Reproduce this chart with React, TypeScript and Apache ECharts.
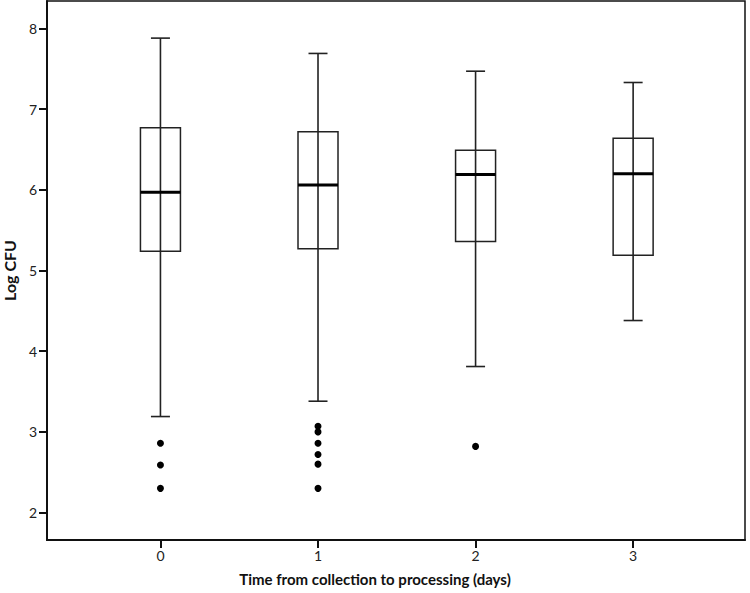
import React, { useEffect, useRef } from "react";
import * as echarts from "echarts";

const days = [0, 1, 2, 3];
const whiskerLow = [3.19, 3.38, 3.81, 4.38];
const q1 = [5.24, 5.27, 5.36, 5.19];
const median = [5.97, 6.06, 6.19, 6.2];
const q3 = [6.77, 6.72, 6.49, 6.64];
const whiskerHigh = [7.88, 7.69, 7.47, 7.33];
const outlierDay = [0, 0, 0, 1, 1, 1, 1, 1, 1, 2];
const outlierValue = [2.86, 2.59, 2.3, 3.07, 3.0, 2.86, 2.72, 2.6, 2.3, 2.82];
const yTicks = [2, 3, 4, 5, 6, 7, 8];
const xTicks = [0, 1, 2, 3];

const FONT = "Lato, 'Open Sans', sans-serif";

export default function App() {
  const ref = useRef<HTMLDivElement>(null);
  useEffect(() => {
    if (!ref.current) return;
    const chart = echarts.init(ref.current, null, { renderer: "svg" });
    const boxData = days.map((d, i) => [d, whiskerLow[i], q1[i], median[i], q3[i], whiskerHigh[i]]);
    const outliers = outlierDay.map((d, i) => [d, outlierValue[i]]);
    chart.setOption({
      animation: false,
      backgroundColor: "#fff",
      grid: {
        left: 47,
        top: 1,
        right: 5,
        bottom: 53,
        containLabel: false,
        outerBoundsMode: "none",
        show: true,
        borderColor: "#111",
        borderWidth: 1.5,
        backgroundColor: "transparent",
      },
      xAxis: {
        type: "value",
        min: -0.72,
        max: 3.71,
        splitLine: { show: false },
        axisLine: { show: true, onZero: false, lineStyle: { color: "#111", width: 2 } },
        axisTick: { show: true, length: 8, customValues: xTicks, lineStyle: { color: "#111", width: 2 } },
        axisLabel: { customValues: xTicks, color: "#222", fontSize: 14, fontFamily: FONT, margin: 8 },
      },
      yAxis: {
        type: "value",
        min: 1.66,
        max: 8.34,
        name: "Log CFU",
        nameLocation: "middle",
        nameGap: 25,
        nameTextStyle: { color: "#111", fontSize: 16, fontWeight: "bold", fontFamily: FONT },
        splitLine: { show: false },
        axisLine: { show: true, onZero: false, lineStyle: { color: "#111", width: 2 } },
        axisTick: { show: true, length: 8, customValues: yTicks, lineStyle: { color: "#111", width: 2 } },
        axisLabel: { customValues: yTicks, color: "#222", fontSize: 14, fontFamily: FONT, margin: 10 },
      },
      graphic: [
        {
          type: "text",
          left: "center",
          top: 571,
          style: {
            text: "Time from collection to processing (days)",
            fill: "#111",
            font: "bold 15px " + FONT,
          },
        },
      ],
      series: [
        {
          type: "custom",
          data: boxData,
          encode: { x: 0, y: [1, 2, 3, 4, 5] },
          renderItem: (params: any, api: any) => {
            const x = api.value(0);
            const pLow = api.coord([x, api.value(1)]);
            const pQ1 = api.coord([x, api.value(2)]);
            const pMed = api.coord([x, api.value(3)]);
            const pQ3 = api.coord([x, api.value(4)]);
            const pHigh = api.coord([x, api.value(5)]);
            const cx = pLow[0];
            const bw = 40;
            const cw = 19;
            const stroke = "#222";
            return {
              type: "group",
              children: [
                {
                  type: "line",
                  shape: { x1: cx, y1: pLow[1], x2: cx, y2: pHigh[1] },
                  style: { stroke, lineWidth: 1.6 },
                },
                {
                  type: "line",
                  shape: { x1: cx - cw / 2, y1: pLow[1], x2: cx + cw / 2, y2: pLow[1] },
                  style: { stroke, lineWidth: 1.6 },
                },
                {
                  type: "line",
                  shape: { x1: cx - cw / 2, y1: pHigh[1], x2: cx + cw / 2, y2: pHigh[1] },
                  style: { stroke, lineWidth: 1.6 },
                },
                {
                  type: "rect",
                  shape: { x: cx - bw / 2, y: pQ3[1], width: bw, height: pQ1[1] - pQ3[1] },
                  style: { fill: "none", stroke, lineWidth: 1.5 },
                },
                {
                  type: "line",
                  shape: { x1: cx - bw / 2, y1: pMed[1], x2: cx + bw / 2, y2: pMed[1] },
                  style: { stroke: "#000", lineWidth: 3 },
                },
              ],
            };
          },
          z: 3,
        },
        {
          type: "scatter",
          data: outliers,
          symbol: "circle",
          symbolSize: 7,
          itemStyle: { color: "#000", opacity: 1 },
          z: 4,
        },
      ],
    });
    return () => chart.dispose();
  }, []);
  return <div ref={ref} style={{ width: 750, height: 593, position: "absolute", left: 0, top: 0 }} />;
}
